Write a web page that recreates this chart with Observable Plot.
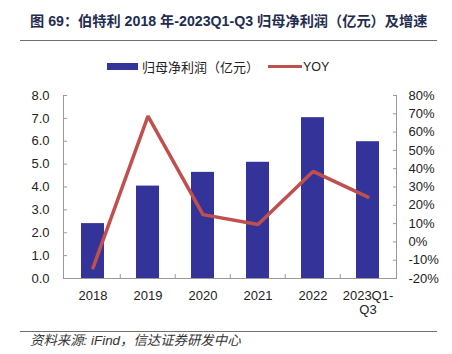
<!DOCTYPE html>
<html><head><meta charset="utf-8">
<script src="https://cdn.jsdelivr.net/npm/d3@7"></script>
<script src="https://cdn.jsdelivr.net/npm/@observablehq/plot@0.6"></script>
<style>
body{margin:0;background:#fff;}
#wrap{position:relative;width:452px;height:354px;overflow:hidden;background:#fff;}
#chart{position:absolute;left:0;top:0;}
#title{position:absolute;left:30px;top:12px;font:bold 14.2px "Liberation Sans","Noto Sans CJK SC",sans-serif;color:#1f2d50;white-space:nowrap;line-height:18px;}
.hr{position:absolute;left:20px;width:417px;height:1px;background:#6f6f6f;}
#legend{position:absolute;left:0;top:0;width:452px;height:0;font:13px "Noto Sans CJK SC",sans-serif;color:#222;}
.sw{position:absolute;}
.lt{position:absolute;white-space:nowrap;line-height:14px;}
#source{position:absolute;left:30px;top:334px;font:italic 13.4px "Liberation Sans","Noto Sans CJK SC",sans-serif;color:#333;white-space:nowrap;line-height:14px;}
</style></head>
<body>
<div id="wrap">
  <div id="chart"></div>
  <div id="title"></div>
  <div class="hr" style="top:40px"></div>
  <div id="legend"></div>
  <div class="hr" style="top:331px"></div>
  <div id="source"></div>
</div>
<script>
const titleText = "图 69：伯特利 2018 年-2023Q1-Q3 归母净利润（亿元）及增速";
const sourceText = "资料来源: iFind，信达证券研发中心";
const seriesNames = ["归母净利润（亿元）", "YOY"];
const categories = ["2018", "2019", "2020", "2021", "2022", "2023Q1-Q3"];
const categoryLabels = ["2018", "2019", "2020", "2021", "2022", "2023Q1-\nQ3"];
const profit = [2.40, 4.04, 4.64, 5.08, 7.03, 5.98];
const yoy = [-14.2, 68.7, 14.9, 9.5, 38.5, 24.5];
const leftTicks = [0, 1, 2, 3, 4, 5, 6, 7, 8];
const rightTicks = [-20, -10, 0, 10, 20, 30, 40, 50, 60, 70, 80];

const barColor = "#333399", lineColor = "#C0504D", axisColor = "#9a9a9a";

document.getElementById("title").textContent = titleText;
document.getElementById("source").textContent = sourceText;

const legend = document.getElementById("legend");
legend.innerHTML =
  `<div class="sw" style="left:107px;top:63px;width:31px;height:7px;background:${barColor}"></div>` +
  `<div class="lt" style="left:142px;top:60px;">${seriesNames[0]}</div>` +
  `<div class="sw" style="left:268px;top:65px;width:34px;height:3px;background:${lineColor}"></div>` +
  `<div class="lt" style="left:303px;top:60px;font-family:'Liberation Sans',sans-serif;font-size:12.5px">${seriesNames[1]}</div>`;

const W = 452, H = 354, ml = 63, mr = 56, mt = 95, mb = 76;
const leftMax = leftTicks[leftTicks.length - 1];
const rMin = rightTicks[0], rMax = rightTicks[rightTicks.length - 1];
const toLeft = v => (v - rMin) * leftMax / (rMax - rMin);
const fromLeft = v => v * (rMax - rMin) / leftMax + rMin;
const step = (W - ml - mr) / categories.length;
const labelOf = Object.fromEntries(categories.map((c, i) => [c, categoryLabels[i]]));

const chart = Plot.plot({
  width: W, height: H,
  marginLeft: ml, marginRight: mr, marginTop: mt, marginBottom: mb,
  x: {type: "band", domain: categories, paddingInner: 0.585, paddingOuter: 0.2925},
  y: {domain: [0, leftMax]},
  style: {fontFamily: "'Liberation Sans', Arial, sans-serif", fontSize: "13px", color: "#222", background: "transparent"},
  marks: [
    Plot.barY(categories, {x: d => d, y: (d, i) => profit[i], fill: barColor}),
    Plot.ruleY([0], {stroke: axisColor}),
    Plot.frame({anchor: "left", stroke: axisColor}),
    Plot.frame({anchor: "right", stroke: axisColor}),
    Plot.tickX(categories.slice(1), {x: d => d, dx: -step / 2, stroke: axisColor, insetTop: (H - mt - mb) - 4}),
    Plot.line(categories, {x: d => d, y: (d, i) => toLeft(yoy[i]), stroke: lineColor, strokeWidth: 3.5, strokeLinejoin: "miter"}),
    Plot.axisY(leftTicks, {anchor: "left", tickFormat: d3.format(".1f"), tickSize: -4, tickPadding: 18, stroke: axisColor, fill: "#222"}),
    Plot.axisY(rightTicks.map(toLeft), {anchor: "right", tickFormat: d => Math.round(fromLeft(d)) + "%", tickSize: -4, tickPadding: 16, stroke: axisColor, fill: "#222"}),
    Plot.axisX({tickSize: 0, tickPadding: 11, lineHeight: 1.12, tickFormat: d => labelOf[d], fill: "#222"})
  ]
});
document.getElementById("chart").appendChild(chart);
</script>
</body></html>
